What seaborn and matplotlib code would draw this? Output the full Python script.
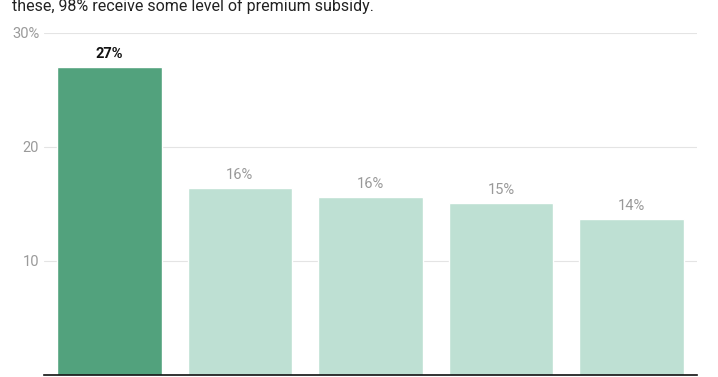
import matplotlib
matplotlib.use('Agg')
import matplotlib.pyplot as plt
import seaborn as sns
import pandas as pd

# Values (category names are cut off in the reference)
groups = ['Group A', 'Group B', 'Group C', 'Group D', 'Group E']
shares = [27.0, 16.4, 15.6, 15.1, 13.7]
labels = ['27%', '16%', '16%', '15%', '14%']

df = pd.DataFrame({'group': groups, 'share': shares})

sns.set_style('white')
plt.rcParams['font.family'] = ['Roboto', 'DejaVu Sans']

fig = plt.figure(figsize=(7.18, 3.77), dpi=100)
ax = fig.add_axes([44 / 718, 2 / 377, 653 / 718, 342 / 377])

palette = ['#52a27d'] + ['#bee0d3'] * 4
sns.barplot(data=df, x='group', y='share', hue='group', palette=palette,
            legend=False, width=0.8, saturation=1, ax=ax, zorder=2)

ax.set_ylim(0, 30)
ax.set_xlim(-0.5, len(groups) - 0.5)
ax.set_yticks([10, 20, 30])
ax.set_yticklabels(['10', '20', '30%'])
ax.set_xticklabels([])
ax.tick_params(axis='y', length=0, pad=3.5, labelsize=10.5, labelcolor='#9a9a9a')
ax.tick_params(axis='x', length=0)
ax.set_xlabel('')
ax.set_ylabel('')
ax.grid(axis='y', color='#e4e4e4', linewidth=0.8, zorder=0)
ax.set_axisbelow(True)
for side in ['top', 'right', 'left']:
    ax.spines[side].set_visible(False)
ax.spines['bottom'].set_color('#111111')
ax.spines['bottom'].set_linewidth(1.2)

for i, (v, lab) in enumerate(zip(shares, labels)):
    if i == 0:
        ax.text(i, v + 0.5, lab, ha='center', va='bottom', fontsize=10.5,
                fontweight='bold', color='#111111')
    else:
        ax.text(i, v + 0.5, lab, ha='center', va='bottom', fontsize=10.5,
                color='#999999')

fig.text(12 / 718, 1 - 11 / 377, 'these, 98% receive some level of premium subsidy.',
         ha='left', va='baseline', fontsize=11.5, color='#222222')

fig.savefig('out.png', dpi=100)
